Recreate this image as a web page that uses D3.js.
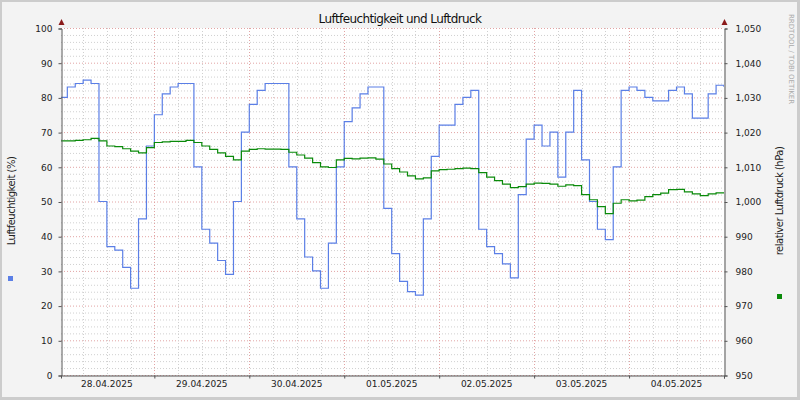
<!DOCTYPE html>
<html>
<head>
<meta charset="utf-8">
<script src="https://cdn.jsdelivr.net/npm/d3@7"></script>
<style>
body { margin: 0; }
text { font-family: "DejaVu Sans", sans-serif; }
</style>
</head>
<body>
<svg id="chart" width="800" height="400"></svg>
<script>
// two-hourly readings, 28.04.2025 00:00 onwards
var humidity = [
  80, 83, 84, 85, 84, 50, 37, 36, 31, 25, 45, 66,
  75, 81, 83, 84, 84, 60, 42, 38, 33, 29, 50, 70,
  78, 82, 84, 84, 84, 60, 45, 34, 30, 25, 38, 60,
  73, 77, 81, 83, 83, 48, 35, 27, 24, 23, 45, 63,
  72, 72, 78, 80, 82, 42, 37, 35, 32, 28, 52, 68,
  72, 66, 70, 57, 70, 82, 62, 50, 42, 39, 60, 82,
  83, 82, 80, 79, 79, 82, 83, 81, 74, 74, 81, 83.5
];
var pressure = [
  1017.5, 1017.5, 1017.6, 1017.8, 1018.2, 1017.5, 1016, 1015.8, 1015.2, 1014.5, 1014, 1015.5,
  1017, 1017.2, 1017.3, 1017.3, 1017.6, 1017, 1016, 1015, 1014, 1013, 1012, 1014.5,
  1015, 1015.2, 1015.1, 1015.1, 1015, 1014.2, 1013.4, 1012.5, 1011.2, 1010, 1009.8, 1012,
  1012.4, 1012.3, 1012.5, 1012.6, 1012.2, 1010.8, 1009.5, 1008.5, 1007.4, 1006.5, 1006.8, 1008.8,
  1009.2, 1009.3, 1009.5, 1009.6, 1009.5, 1008.3, 1007, 1006, 1005, 1004, 1004.3, 1005,
  1005.3, 1005.2, 1005, 1004.4, 1004.8, 1004.6, 1002, 1000.5, 998.5, 996.5, 999.5, 1000.5,
  1000.2, 1000.4, 1001.4, 1002, 1002.4, 1003.4, 1003.5, 1002.8, 1002.2, 1001.7, 1002.2, 1002.5
];
var dayLabels = ["28.04.2025", "29.04.2025", "30.04.2025", "01.05.2025", "02.05.2025", "03.05.2025", "04.05.2025"];
var leftTicks = [0, 10, 20, 30, 40, 50, 60, 70, 80, 90, 100];
var rightTicks = [950, 960, 970, 980, 990, 1000, 1010, 1020, 1030, 1040, 1050];

var svg = d3.select("#chart");
var L = 61, R = 724, T = 28, B = 375;
var start = new Date(2025, 3, 28, 0, 0);
var hour = 3600000;
var times = humidity.map(function(d, i) { return new Date(+start + i * 2 * hour); });

var x = d3.scaleTime()
  .domain([new Date(+start + 0.4 * hour), new Date(2025, 4, 5, 0, 0)])
  .range([L, R]);
var yH = d3.scaleLinear().domain([0, 100]).range([B, T]);
var yP = d3.scaleLinear().domain([950, 1050]).range([B, T]);

// frame
svg.append("rect").attr("width", 800).attr("height", 400).attr("fill", "#cccccc");
svg.append("rect").attr("x", 2).attr("y", 2).attr("width", 795).attr("height", 395).attr("fill", "#f3f3f3");
svg.append("rect").attr("x", L).attr("y", T).attr("width", R - L).attr("height", B - T).attr("fill", "#ffffff");

// grid
var grid = svg.append("g");
d3.range(0, 101, 2).forEach(function(v) {
  grid.append("line")
    .attr("x1", L).attr("x2", R).attr("y1", yH(v) + 0.5).attr("y2", yH(v) + 0.5)
    .attr("stroke", v % 10 == 0 ? "#e2a4a4" : "#d0d0d0")
    .attr("stroke-dasharray", "1,2");
});
d3.timeHour.every(6).range(start, new Date(2025, 4, 5, 1)).forEach(function(t) {
  var px = Math.round(x(t)) + 0.5;
  if (px <= L || px > R) return;
  grid.append("line")
    .attr("x1", px).attr("x2", px).attr("y1", T).attr("y2", B)
    .attr("stroke", t.getHours() == 0 ? "#e2a4a4" : "#d0d0d0")
    .attr("stroke-dasharray", "1,2");
});

// series
svg.append("clipPath").attr("id", "clip")
  .append("rect").attr("x", L).attr("y", T).attr("width", R - L).attr("height", B - T);

var lineH = d3.line().x(function(d, i) { return x(times[i]); }).y(function(d) { return yH(d); }).curve(d3.curveStepAfter);
var lineP = d3.line().x(function(d, i) { return x(times[i]); }).y(function(d) { return yP(d); }).curve(d3.curveStepAfter);

svg.append("path").datum(humidity.concat([83])).attr("d", function(d) {
    times.push(new Date(2025, 4, 5, 0)); var p = lineH(d); times.pop(); return p; })
  .attr("fill", "none").attr("stroke", "#5b7fe6").attr("stroke-width", 1.2).attr("clip-path", "url(#clip)");
svg.append("path").datum(pressure.concat([1002.5])).attr("d", function(d) {
    times.push(new Date(2025, 4, 5, 0)); var p = lineP(d); times.pop(); return p; })
  .attr("fill", "none").attr("stroke", "#0a8a0a").attr("stroke-width", 1.2).attr("clip-path", "url(#clip)");

// axes
var left = svg.append("g").attr("transform", "translate(" + (L + 0.5) + ",0.5)")
  .call(d3.axisLeft(yH).tickValues(leftTicks).tickSize(3).tickPadding(6));
var right = svg.append("g").attr("transform", "translate(" + (R + 0.5) + ",0.5)")
  .call(d3.axisRight(yP).tickValues(rightTicks).tickSize(3).tickPadding(8));
var bottom = svg.append("g").attr("transform", "translate(0," + (B + 0.5) + ")")
  .call(d3.axisBottom(x).ticks(d3.timeDay.every(1)).tickSize(3).tickFormat(""));
[left, right, bottom].forEach(function(g) {
  g.select(".domain").attr("stroke", "#555555");
  g.selectAll(".tick line").attr("stroke", "#555555");
  g.selectAll("text").attr("font-size", 9).attr("fill", "#222222").attr("font-family", "DejaVu Sans");
});

svg.selectAll(".daylabel").data(dayLabels).enter().append("text")
  .attr("x", function(d, i) { return x(new Date(2025, 3, 28 + i, 12)); })
  .attr("y", 387).attr("text-anchor", "middle").attr("font-size", 9).attr("fill", "#222222")
  .text(function(d) { return d; });

// axis arrows
[L, R].forEach(function(ax) {
  svg.append("path").attr("d", "M" + (ax - 2.5) + ",25 L" + (ax + 3.5) + ",25 L" + (ax + 0.5) + ",19 Z").attr("fill", "#8b1a1a");
});

// titles
svg.append("text").attr("x", 400).attr("y", 23).attr("text-anchor", "middle")
  .attr("font-size", 12).attr("letter-spacing", -0.6).attr("fill", "#111111").text("Luftfeuchtigkeit und Luftdruck");
svg.append("text").attr("transform", "translate(15,201) rotate(-90)").attr("text-anchor", "middle")
  .attr("font-size", 10).attr("letter-spacing", -0.5).attr("fill", "#222222").text("Luftfeuchtigkeit (%)");
svg.append("text").attr("transform", "translate(783,201) rotate(-90)").attr("text-anchor", "middle")
  .attr("font-size", 10).attr("letter-spacing", -0.5).attr("fill", "#222222").text("relativer Luftdruck (hPa)");
svg.append("text").attr("transform", "translate(789,14) rotate(90)")
  .attr("font-size", 7).attr("fill", "#aaaaaa").text("RRDTOOL / TOBI OETIKER");

// legend markers
svg.append("rect").attr("x", 8).attr("y", 276).attr("width", 5).attr("height", 5).attr("fill", "#5b7fe6");
svg.append("rect").attr("x", 777).attr("y", 294).attr("width", 5).attr("height", 5).attr("fill", "#0a8a0a");
</script>
</body>
</html>
